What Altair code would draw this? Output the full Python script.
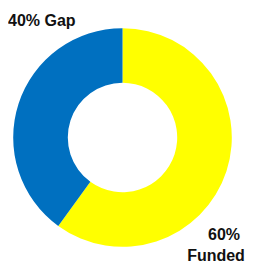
import altair as alt
import pandas as pd

categories = ["Funded", "Gap"]
values = [60, 40]
gap_label = "40% Gap"
funded_pct = "60%"
funded_word = "Funded"
colors = ["#FFFF00", "#0070C0"]

df = pd.DataFrame({"category": categories, "value": values, "order": [0, 1]})

cx, cy = 114.5, 129.5

arcs = alt.Chart(df).mark_arc(outerRadius=109.3, innerRadius=54.7).encode(
    theta=alt.Theta("value:Q", stack=True),
    order=alt.Order("order:Q"),
    color=alt.Color("category:N", scale=alt.Scale(domain=categories, range=colors), legend=None),
    x=alt.value(cx),
    y=alt.value(cy),
)

style = dict(font="Liberation Sans", fontSize=16, fontWeight="bold", color="#111111", baseline="alphabetic")


def label(txt, x, y, align):
    return alt.Chart(pd.DataFrame({"t": [txt]})).mark_text(align=align, **style).encode(
        text="t:N", x=alt.value(x), y=alt.value(y)
    )


chart = alt.layer(
    arcs,
    label(gap_label, 0, 18, "left"),
    label(funded_pct, 216, 231.5, "center"),
    label(funded_word, 208, 253, "center"),
).properties(
    width=237, height=255,
    autosize=alt.AutoSizeParams(type="none"),
    padding=0,
    background="white",
).configure_view(stroke=None)

chart.save("out.html", embed_options={"renderer": "svg", "actions": False})
